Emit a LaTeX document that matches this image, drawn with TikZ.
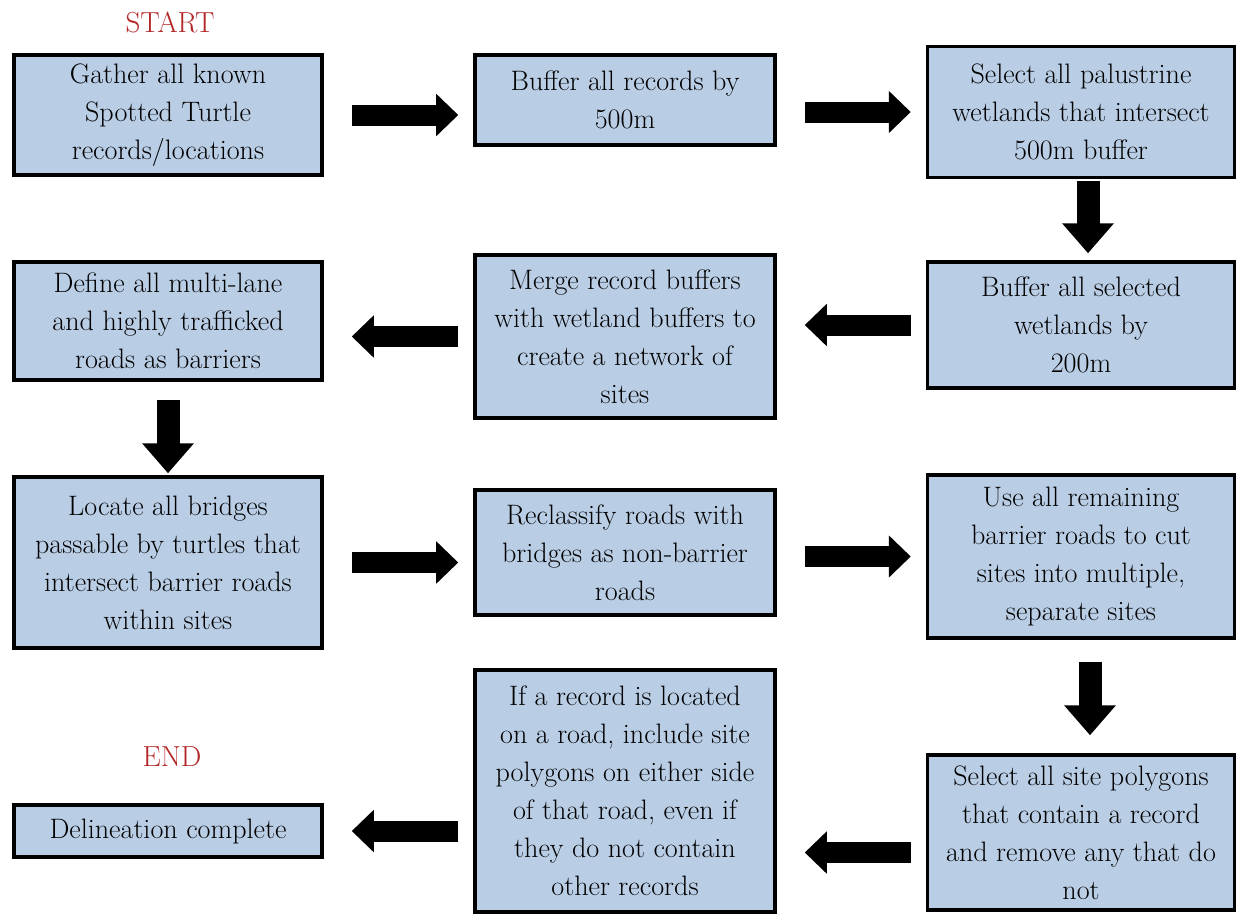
\documentclass[tikz,border=0pt]{standalone}
\usepackage[dvipsnames]{xcolor}
\usetikzlibrary{arrows.meta}

\definecolor{boxblue}{RGB}{185,205,229}
\definecolor{startred}{RGB}{178,38,38}

\begin{document}
\begin{tikzpicture}[main node/.style={rectangle,draw=black,line width=2pt,fill=boxblue,align=center,inner sep=2pt,font=\fontsize{16}{21.6}\selectfont,text=black},
    label node/.style={font=\fontsize{16.5}{20}\selectfont,text=startred},
    hflow/.style={line width=0.42cm,-{Triangle[length=0.44cm,width=0.82cm]}},
    vflow/.style={line width=0.46cm,-{Triangle[length=0.6cm,width=1.0cm]}}]
            \useasboundingbox (0,0) rectangle (24.86,-18.26);

            \node[label node] (start) at (3.4,-0.44) {START};
            \node[label node] (end) at (3.44,-15.14) {END};

            \node[main node,minimum width=6.16cm,minimum height=2.4cm] (1) at (3.36,-2.30) {Gather all known\\Spotted Turtle\\records/locations};
            \node[main node,minimum width=6.0cm,minimum height=1.8cm] (2) at (12.5,-2.0) {Buffer all records by\\500m};
            \node[main node,minimum width=6.14cm,minimum height=2.62cm] (3) at (21.62,-2.24) {Select all palustrine\\wetlands that intersect\\500m buffer};
            \node[main node,minimum width=6.14cm,minimum height=2.52cm] (4) at (21.62,-6.5) {Buffer all selected\\wetlands by\\200m};
            \node[main node,minimum width=6.0cm,minimum height=3.26cm] (5) at (12.5,-6.73) {Merge record buffers\\with wetland buffers to\\create a network of\\sites};
            \node[main node,minimum width=6.16cm,minimum height=2.36cm] (6) at (3.36,-6.42) {Define all multi-lane\\and highly trafficked\\roads as barriers};
            \node[main node,minimum width=6.16cm,minimum height=3.42cm] (7) at (3.36,-11.25) {Locate all bridges\\passable by turtles that\\intersect barrier roads\\within sites};
            \node[main node,minimum width=6.0cm,minimum height=2.5cm] (8) at (12.5,-11.05) {Reclassify roads with\\bridges as non-barrier\\roads};
            \node[main node,minimum width=6.14cm,minimum height=3.26cm] (9) at (21.62,-11.13) {Use all remaining\\barrier roads to cut\\sites into multiple,\\separate sites};
            \node[main node,minimum width=6.14cm,minimum height=3.1cm] (10) at (21.62,-16.65) {Select all site polygons\\that contain a record\\and remove any that do\\not};
            \node[main node,minimum width=6.0cm,minimum height=4.84cm] (11) at (12.5,-15.82) {If a record is located\\on a road, include site\\polygons on either side\\of that road, even if\\they do not contain\\other records};
            \node[main node,minimum width=6.16cm,minimum height=1.04cm] (12) at (3.36,-16.62) {Delineation complete};

            % rightward steps
            \draw[hflow,shorten <=0.56cm,shorten >=0.3cm] (1.east) -- (1.east -| 2.west);
            \draw[hflow,shorten <=0.56cm,shorten >=0.3cm] (3.west -| 2.east) -- (3.west);
            \draw[hflow,shorten <=0.56cm,shorten >=0.3cm] (7.east) -- (7.east -| 8.west);
            \draw[hflow,shorten <=0.56cm,shorten >=0.3cm] (9.west -| 8.east) -- (9.west);
            % leftward steps
            \draw[hflow,shorten <=0.3cm,shorten >=0.56cm] (4.west) -- (4.west -| 5.east);
            \draw[hflow,shorten <=0.3cm,shorten >=0.56cm] (5.west) -- (5.west -| 6.east);
            \draw[hflow,shorten <=0.3cm,shorten >=0.56cm] ([yshift=-0.4cm]10.west) -- ([yshift=-0.4cm]10.west -| 11.east);
            \draw[hflow,shorten <=0.3cm,shorten >=0.56cm] (11.west |- 12.east) -- (12.east);
            % downward steps
            \draw[vflow,shorten <=0.04cm,shorten >=0.14cm] ([xshift=0.14cm]3.south) -- ([xshift=0.14cm]4.north);
            \draw[vflow,shorten <=0.36cm,shorten >=0.04cm] (6.south) -- (7.north);
            \draw[vflow,shorten <=0.44cm,shorten >=0.36cm] ([xshift=0.18cm]9.south) -- ([xshift=0.18cm]10.north);
\end{tikzpicture}
\end{document}
